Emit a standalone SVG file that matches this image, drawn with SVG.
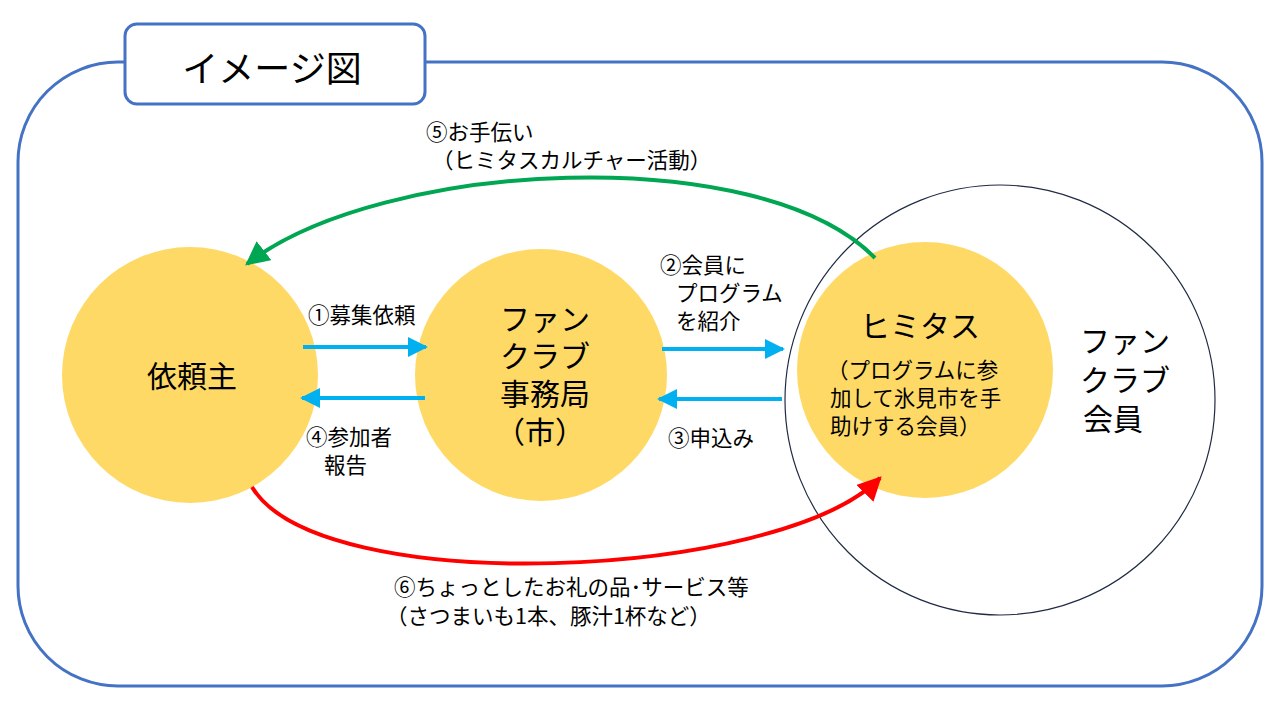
<svg xmlns="http://www.w3.org/2000/svg" width="1280" height="720" viewBox="0 0 1280 720">
<defs>
<style>
text{font-family:"Noto Sans CJK JP","Liberation Sans",sans-serif;fill:#000}
.lb{font-size:21.5px}
.nd{font-size:30px}
.node{fill:#FFD966}
.blue{stroke:#00B0F0;stroke-width:4;fill:none;marker-end:url(#ab)}
</style>
<marker id="ab" viewBox="0 0 10 10" refX="9" refY="5" markerWidth="5" markerHeight="5" orient="auto" markerUnits="strokeWidth"><path d="M0,0L10,5L0,10z" fill="#00B0F0"/></marker>
<marker id="ag" viewBox="0 0 10 10" refX="9" refY="5" markerWidth="6" markerHeight="6" orient="auto" markerUnits="strokeWidth"><path d="M0,0L10,5L0,10z" fill="#00A651"/></marker>
<marker id="ar" viewBox="0 0 10 10" refX="9" refY="5" markerWidth="6" markerHeight="6" orient="auto" markerUnits="strokeWidth"><path d="M0,0L10,5L0,10z" fill="#FF0000"/></marker>
</defs>
<rect x="18" y="62" width="1244" height="624" rx="100" fill="#fff" stroke="#4472C4" stroke-width="3"/>
<g id="title"><rect x="125" y="24" width="300" height="80" rx="12" fill="#fff" stroke="#4472C4" stroke-width="3"/><text x="272" y="82" font-size="36" text-anchor="middle">イメージ図</text></g>
<g id="members"><circle cx="1000" cy="400" r="215" fill="#fff" stroke="#1F2A44" stroke-width="1.2"/><text class="nd" x="1125" y="352" text-anchor="middle">ファン</text><text class="nd" x="1125" y="391" text-anchor="middle">クラブ</text><text class="nd" x="1113" y="430" text-anchor="middle">会員</text></g>
<g id="client"><circle class="node" cx="190" cy="375" r="128"/><text class="nd" x="192" y="387" text-anchor="middle">依頼主</text></g>
<g id="office"><circle class="node" cx="541" cy="375" r="126"/><text class="nd" x="545" y="330" text-anchor="middle">ファン</text><text class="nd" x="545" y="367" text-anchor="middle">クラブ</text><text class="nd" x="545" y="405" text-anchor="middle">事務局</text><text class="nd" x="540" y="443" text-anchor="middle">（市）</text></g>
<g id="himitasu"><circle class="node" cx="925" cy="370" r="128"/><text class="nd" x="920" y="337" text-anchor="middle">ヒミタス</text><text class="lb" x="827" y="378">（プログラムに参</text><text class="lb" x="830" y="406">加して氷見市を手</text><text class="lb" x="830" y="434">助けする会員）</text></g>
<g id="connectors">
<path class="blue" d="M303,347H426"/>
<path class="blue" d="M425,398H302"/>
<path class="blue" d="M662,349H783"/>
<path class="blue" d="M782,399H659"/>
<path d="M875,258C760,140 380,160 247,264" stroke="#00A651" stroke-width="4" fill="none" marker-end="url(#ag)"/>
<path d="M252,487C320,600 780,580 880,478" stroke="#FF0000" stroke-width="4" fill="none" marker-end="url(#ar)"/>
</g>
<g id="labels">
<text class="lb" x="308" y="323">①募集依頼</text>
<text class="lb" x="306" y="445">④参加者</text><text class="lb" x="324" y="473">報告</text>
<text class="lb" x="660" y="273">②会員に</text><text class="lb" x="676" y="301">プログラム</text><text class="lb" x="676" y="329">を紹介</text>
<text class="lb" x="668" y="446">③申込み</text>
<text class="lb" x="426" y="140">⑤お手伝い</text><text class="lb" x="432" y="168">（ヒミタスカルチャー活動）</text>
<text class="lb" x="394" y="595">⑥ちょっとしたお礼の品･サービス等</text><text class="lb" x="386" y="624">（さつまいも1本、豚汁1杯など）</text>
</g>
</svg>
